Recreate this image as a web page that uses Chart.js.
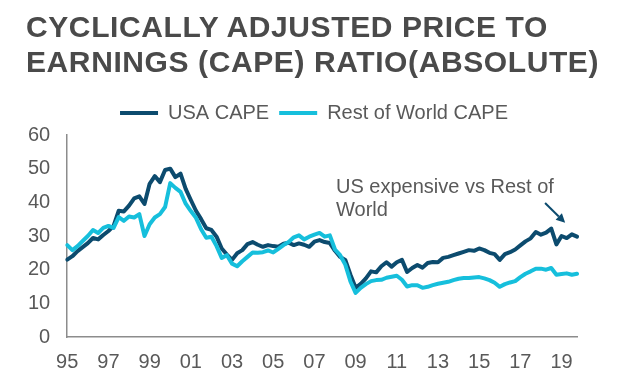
<!DOCTYPE html>
<html><head><meta charset="utf-8">
<script src="https://cdn.jsdelivr.net/npm/chart.js@4.4.1/dist/chart.umd.min.js"></script>
<style>
html,body{margin:0;padding:0;background:#fff;}
#wrap{position:relative;width:634px;height:382px;overflow:hidden;}
#title{position:absolute;left:26px;top:9px;font:bold 30px "Liberation Sans",Arial,sans-serif;line-height:35px;letter-spacing:0.6px;color:#4a4a4a;white-space:nowrap;}
canvas{position:absolute;left:0;top:0;}
</style></head>
<body><div id="wrap"><canvas id="c" width="634" height="382"></canvas><div id="title">CYCLICALLY ADJUSTED PRICE TO<br>EARNINGS (CAPE) RATIO(ABSOLUTE)</div></div>
<script>
// Categories: quarterly, 1995 Q1 .. 2019 Q4
const startYear = 1995, endYear = 2019;
const quarters = [];
for (let y = startYear; y <= endYear; y++) for (let q = 1; q <= 4; q++) quarters.push(y + ' Q' + q);

const xTickLabels = ['95','97','99','01','03','05','07','09','11','13','15','17','19'];

const usaCape = [
 23.0,24.0,25.5,26.7,27.9,29.4,29.0,30.3,31.5,33.0,
 37.5,37.3,39.0,41.2,41.8,39.5,45.5,47.8,46.0,49.6,
 50.0,47.5,48.5,44.0,40.7,37.5,35.0,32.3,31.8,29.8,
 26.3,24.5,22.9,24.9,25.8,27.6,28.2,27.4,26.8,27.3,
 27.0,26.8,27.7,28.0,27.3,27.8,27.4,26.8,28.3,28.8,
 28.2,27.9,25.6,23.8,22.9,18.5,14.6,15.8,17.4,19.5,
 19.2,21.0,22.2,20.9,22.2,22.9,19.3,20.5,21.4,20.6,
 22.0,22.3,22.2,23.5,23.8,24.3,24.8,25.3,25.8,25.6,
 26.3,25.8,25.0,24.6,22.9,24.6,25.2,26.0,27.2,28.4,
 29.3,31.2,30.4,31.0,32.2,27.5,30.0,29.4,30.5,29.8
];
const rowCape = [
 27.3,25.8,27.0,28.5,30.0,31.8,30.9,32.4,33.0,32.4,
 35.6,34.5,35.8,35.5,36.5,30.0,33.5,35.5,36.5,38.6,
 45.7,44.3,43.1,39.6,37.4,35.4,32.0,29.5,29.8,27.0,
 23.5,24.3,21.8,21.0,22.5,23.8,25.1,25.0,25.2,25.7,
 25.1,26.2,27.3,28.2,29.6,30.2,29.0,29.8,30.4,30.9,
 29.8,30.2,26.0,24.3,21.5,16.5,13.1,14.6,15.7,16.6,
 16.9,17.0,17.6,17.9,18.2,17.0,15.0,15.4,15.4,14.6,
 14.9,15.4,15.8,16.1,16.4,16.9,17.3,17.5,17.5,17.7,
 17.8,17.4,16.9,16.1,14.9,15.7,16.2,16.6,17.8,18.8,
 19.5,20.3,20.3,20.0,20.5,18.5,18.7,18.9,18.5,18.8
];

// Annotation (in data space: [category index, value])
const annotationLines = ['US expensive vs Rest of', 'World'];
const annotationAt = [52.2, 44.5];
const annotationLineStep = 6.8;
const arrowFrom = [92.8, 39.8];
const arrowTo = [96.7, 33.9];

const DARK = '#0c4b6e', LIGHT = '#16bfdc', TEXT = '#595959', AXIS = '#8c8c8c';
const FONT = '"Liberation Sans", Arial, sans-serif';

const layoutTweak = {
  id: 'layoutTweak',
  beforeUpdate(chart) {
    const lg = chart.legend;
    if (lg && !lg._patched) {
      const f = lg.fit;
      lg.fit = function () { f.call(this); this.height += 2; };
      lg._patched = true;
    }
  },
  afterLayout(chart) {
    const lg = chart.legend;
    if (lg) { lg.left += 20; lg.right += 20; }
  }
};

const annotate = {
  id: 'annotate',
  afterDatasetsDraw(chart) {
    const ctx = chart.ctx, xs = chart.scales.x, ys = chart.scales.y;
    ctx.save();
    ctx.fillStyle = TEXT;
    ctx.font = '20px ' + FONT;
    ctx.textAlign = 'left';
    ctx.textBaseline = 'middle';
    annotationLines.forEach((t, i) => {
      ctx.fillText(t, xs.getPixelForValue(annotationAt[0]), ys.getPixelForValue(annotationAt[1] - i * annotationLineStep));
    });
    const x1 = xs.getPixelForValue(arrowFrom[0]), y1 = ys.getPixelForValue(arrowFrom[1]);
    const x2 = xs.getPixelForValue(arrowTo[0]), y2 = ys.getPixelForValue(arrowTo[1]);
    const a = Math.atan2(y2 - y1, x2 - x1), L = 9, W = 4.5;
    ctx.strokeStyle = DARK; ctx.fillStyle = DARK; ctx.lineWidth = 2;
    ctx.beginPath(); ctx.moveTo(x1, y1);
    ctx.lineTo(x2 - L * Math.cos(a), y2 - L * Math.sin(a)); ctx.stroke();
    ctx.beginPath();
    ctx.moveTo(x2, y2);
    ctx.lineTo(x2 - L * Math.cos(a) + W * Math.sin(a), y2 - L * Math.sin(a) - W * Math.cos(a));
    ctx.lineTo(x2 - L * Math.cos(a) - W * Math.sin(a), y2 - L * Math.sin(a) + W * Math.cos(a));
    ctx.closePath(); ctx.fill();
    ctx.restore();
  }
};

new Chart(document.getElementById('c'), {
  type: 'line',
  data: {
    labels: quarters,
    datasets: [
      { label: 'USA CAPE', data: usaCape, borderColor: DARK, backgroundColor: DARK, borderWidth: 4, pointRadius: 0, tension: 0, borderJoinStyle: 'round', borderCapStyle: 'round', order: 1 },
      { label: 'Rest of World CAPE', data: rowCape, borderColor: LIGHT, backgroundColor: LIGHT, borderWidth: 4, pointRadius: 0, tension: 0, borderJoinStyle: 'round', borderCapStyle: 'round', order: 0 }
    ]
  },
  options: {
    responsive: false,
    devicePixelRatio: 1,
    animation: false,
    layout: { padding: { top: 93, left: 11, right: 57, bottom: 8 } },
    plugins: {
      tooltip: { enabled: false },
      title: { display: false },
      legend: {
        display: true,
        position: 'top',
        labels: {
          color: TEXT,
          font: { family: FONT, size: 20 },
          boxWidth: 38,
          boxHeight: 4,
          padding: 10,
          generateLabels(chart) {
            return chart.data.datasets.map((ds, i) => ({
              text: ds.label, fillStyle: ds.borderColor, strokeStyle: ds.borderColor,
              lineWidth: 0, hidden: !chart.isDatasetVisible(i), datasetIndex: i, fontColor: TEXT
            }));
          }
        }
      }
    },
    scales: {
      x: {
        type: 'category',
        grid: { display: false, drawTicks: false },
        border: { display: true, color: AXIS, width: 1.5 },
        afterFit(scale) { scale.height = 37; },
        ticks: {
          autoSkip: false, maxRotation: 0, minRotation: 0, padding: 13,
          color: TEXT, font: { family: FONT, size: 20 },
          callback(value, index) {
            const lab = quarters[index];
            if (lab.endsWith('Q1')) { const yy = lab.slice(2, 4); if (xTickLabels.includes(yy)) return yy; }
            return null;
          }
        }
      },
      y: {
        min: 0, max: 60,
        grid: { display: false, drawTicks: false },
        border: { display: true, color: AXIS, width: 1.5 },
        ticks: { stepSize: 10, padding: 17, color: TEXT, font: { family: FONT, size: 20 } }
      }
    }
  },
  plugins: [layoutTweak, annotate]
});
</script>
</body></html>
